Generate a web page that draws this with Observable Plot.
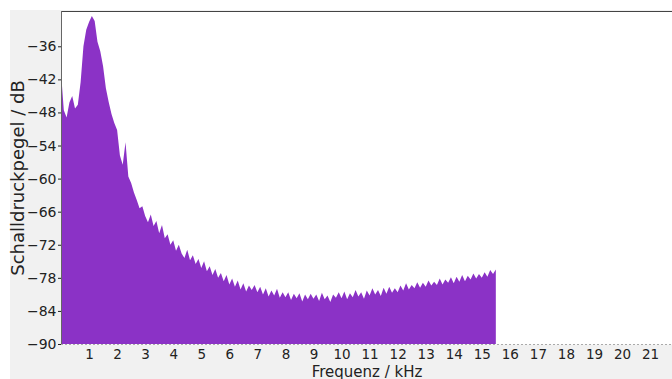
<!DOCTYPE html>
<html>
<head>
<meta charset="utf-8">
<script src="https://cdn.jsdelivr.net/npm/d3@7"></script>
<script src="https://cdn.jsdelivr.net/npm/@observablehq/plot@0.6"></script>
<style>
  html, body { margin: 0; padding: 0; background: #ffffff; }
  #wrap { position: relative; width: 672px; height: 379px; overflow: hidden; }
  #bg { position: absolute; left: 10px; top: 10px; width: 662px; height: 369px; background: #f1f1f1; }
  #chart { position: absolute; left: 0; top: 0; }
  svg { font-family: "DejaVu Sans", sans-serif; }
  g[aria-label="x-axis tick label"] text { font-size: 13.5px; }
  g[aria-label="x-axis label"] text { font-size: 15px; }
  g[aria-label="y-axis label"] text { font-size: 18px; }
</style>
</head>
<body>
<div id="wrap"><div id="bg"></div><div id="chart"></div></div>
<script>
// Frequency grid step (kHz) of the spectrum samples below
const freqStepKHz = 0.1;
// Sound pressure level (dB) per 0.1 kHz, from 0.0 to 15.5 kHz
const levelsDb = [
  -40.7, -47.6, -48.9, -46.2, -45.0, -47.3, -46.6, -42.5, -36.0, -33.0,
  -31.6, -30.5, -31.4, -35.2, -36.9, -39.6, -43.6, -46.1, -48.3, -49.9,
  -51.2, -55.8, -57.5, -53.4, -59.6, -60.8, -62.5, -63.9, -65.4, -65.0,
  -66.8, -67.9, -66.5, -68.6, -67.7, -69.9, -68.4, -70.8, -70.1, -72.0,
  -71.2, -73.1, -72.0, -73.6, -74.4, -72.9, -74.8, -73.9, -75.5, -74.6,
  -76.2, -75.0, -76.8, -75.9, -77.5, -76.4, -78.0, -77.1, -78.6, -77.5,
  -79.2, -78.1, -79.6, -78.5, -80.1, -79.0, -80.5, -79.4, -80.2, -79.3,
  -80.6, -79.6, -81.0, -79.9, -81.4, -80.3, -81.2, -80.0, -81.6, -80.6,
  -81.5, -80.6, -82.0, -80.9, -81.7, -80.8, -82.3, -81.0, -81.9, -80.9,
  -81.8, -81.0, -82.2, -80.7, -81.9, -81.2, -82.4, -81.0, -81.6, -80.6,
  -81.7, -80.5, -81.9, -80.8, -81.5, -80.2, -81.4, -80.6, -81.8, -80.3,
  -81.2, -79.9, -81.0, -80.2, -81.3, -79.8, -80.9, -79.6, -80.7, -79.9,
  -80.6, -79.4, -80.3, -79.0, -80.1, -79.3, -79.9, -78.8, -79.8, -78.9,
  -79.6, -78.5, -79.4, -78.7, -79.3, -78.1, -79.2, -78.3, -78.9, -77.9,
  -79.0, -77.8, -78.7, -77.5, -78.6, -77.6, -78.3, -77.2, -78.1, -77.3,
  -78.0, -77.0, -77.8, -76.6, -77.3, -76.5
];
const xTicks = [1,2,3,4,5,6,7,8,9,10,11,12,13,14,15,16,17,18,19,20,21];
const yTicks = [-90,-84,-78,-72,-66,-60,-54,-48,-42,-36];
const xLabel = "Frequenz / kHz";
const yLabel = "Schalldruckpegel / dB";

const data = levelsDb.map((db, i) => ({f: +(i * freqStepKHz).toFixed(2), db}));
const yMin = -90, yMax = -29.6, xMax = 21.78;

const chart = Plot.plot({
  width: 672,
  height: 379,
  marginLeft: 61,
  marginRight: 0,
  marginTop: 11,
  marginBottom: 35,
  style: {background: "transparent", fontFamily: "DejaVu Sans, sans-serif", fontSize: "14px", color: "#222"},
  x: {domain: [0, xMax], ticks: xTicks, tickSize: 0, tickPadding: 5, label: xLabel, labelAnchor: "center", labelArrow: "none", labelOffset: 32},
  y: {domain: [yMin, yMax], ticks: yTicks, tickSize: 3, tickPadding: 2, label: yLabel, labelAnchor: "center", labelArrow: "none", labelOffset: 50},
  marks: [
    Plot.frame({fill: "white", stroke: "none"}),
    Plot.areaY(data, {x: "f", y1: yMin, y2: "db", fill: "#8b32c6", clip: true}),
    Plot.ruleY([yMin], {stroke: "#aaa", strokeDasharray: "2,2"}),
    Plot.ruleY([yMax], {stroke: "#444", strokeWidth: 1.2}),
    Plot.ruleX([0], {stroke: "#666"})
  ]
});
document.getElementById("chart").appendChild(chart);
</script>
</body>
</html>
